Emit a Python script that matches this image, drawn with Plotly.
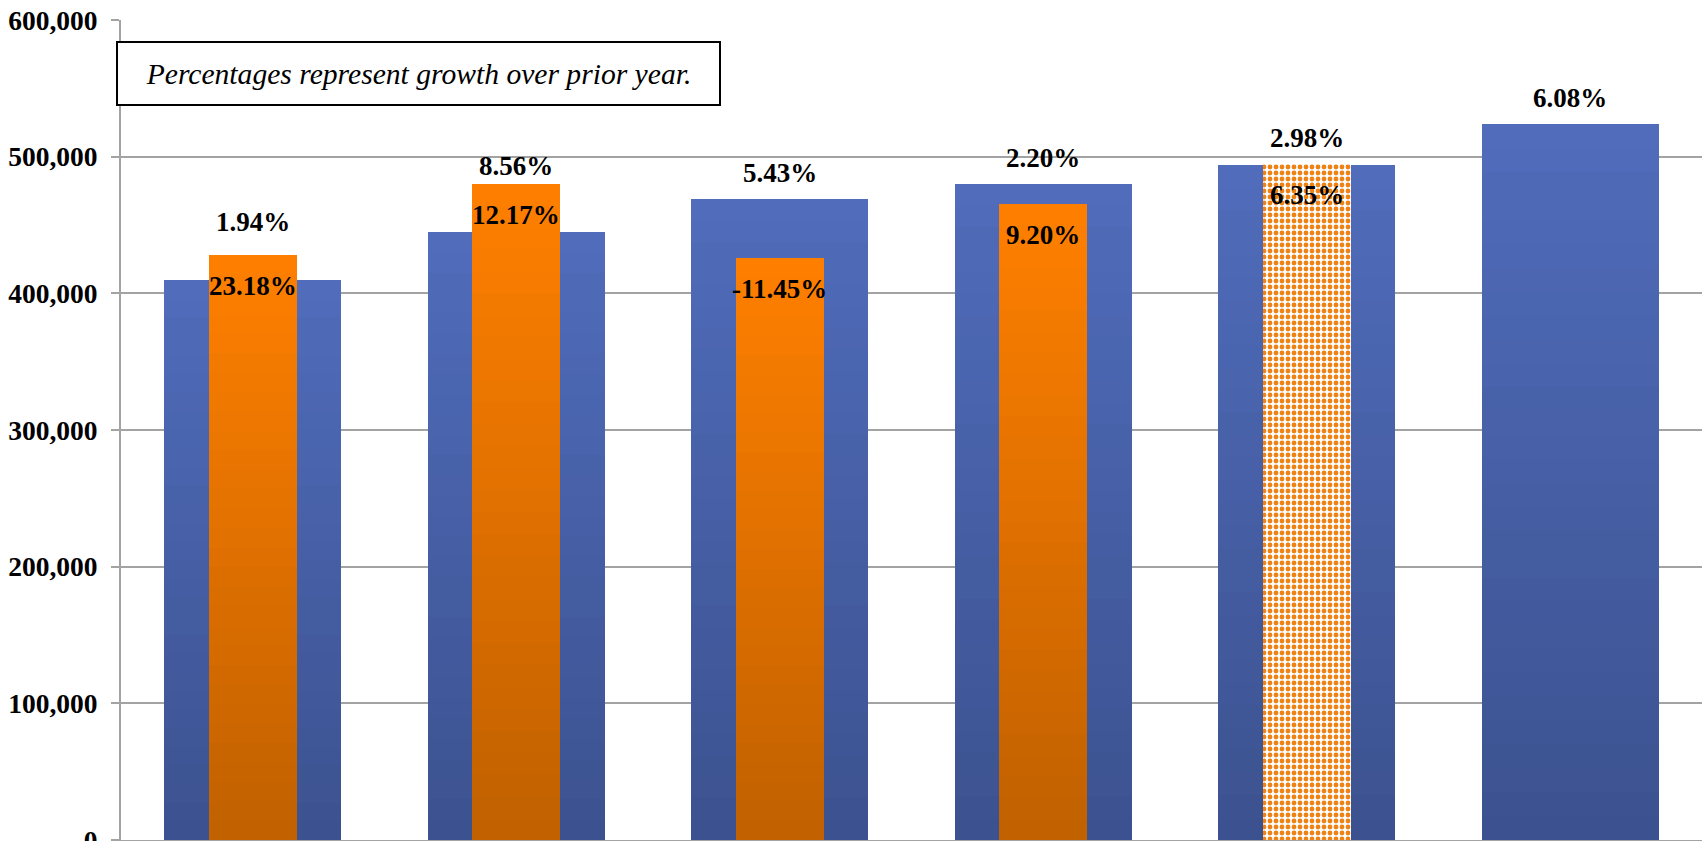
import plotly.graph_objects as go

# ---- data ----
categories = ["Y1", "Y2", "Y3", "Y4", "Y5", "Y6"]
blue_values = [409700, 444800, 469200, 480200, 494000, 523800]
blue_labels = ["1.94%", "8.56%", "5.43%", "2.20%", "2.98%", "6.08%"]
orange_values = [428000, 480300, 425500, 465200, 495000]
orange_labels = ["23.18%", "12.17%", "-11.45%", "9.20%", "6.35%"]
y_ticks = [0, 100000, 200000, 300000, 400000, 500000, 600000]
note_text = "Percentages represent growth over prior year."

# ---- styles ----
blue_top, blue_bottom = (80, 108, 187), (60, 82, 143)
orange_top, orange_bottom = (255, 128, 0), (192, 96, 0)
orange_checkered = [False, False, False, False, True]
blue_label_shift = [58, 66, 26, 26, 27, 26]   # px above bar top
orange_label_shift = -31                         # px below bar top
grid_color = "#A3A3A3"
serif = "Liberation Serif, Times New Roman, serif"
N_SHADES = 30


def mix(c_bottom, c_top, t):
    return "rgb(%d,%d,%d)" % tuple(round(b + (a - b) * t) for a, b in zip(c_top, c_bottom))


def gradient_bars(fig, xs, vals, width, c_top, c_bottom):
    # one bar per category, drawn as vertical shades (bottom dark -> top light)
    for k in range(N_SHADES):
        t = (k + 0.5) / N_SHADES
        fig.add_trace(go.Bar(
            x=xs, y=[v / N_SHADES * 1.02 if k < N_SHADES - 1 else v / N_SHADES for v in vals],
            base=[v * k / N_SHADES for v in vals], width=width,
            marker=dict(color=mix(c_bottom, c_top, t), line=dict(width=0)),
            hoverinfo="skip", showlegend=False,
        ))


fig = go.Figure()
gradient_bars(fig, categories, blue_values, 0.672, blue_top, blue_bottom)

solid_x = [c for c, h in zip(categories, orange_checkered) if not h]
solid_v = [v for v, h in zip(orange_values, orange_checkered) if not h]
gradient_bars(fig, solid_x, solid_v, 0.335, orange_top, orange_bottom)

check_x = [c for c, h in zip(categories, orange_checkered) if h]
check_v = [v for v, h in zip(orange_values, orange_checkered) if h]
fig.add_trace(go.Bar(
    x=check_x, y=check_v, width=0.335,
    marker=dict(color="#F0820F", line=dict(width=0),
                pattern=dict(shape=".", fgcolor="#EE8214", bgcolor="white",
                             size=6, solidity=0.5, fillmode="replace")),
    hoverinfo="skip", showlegend=False,
))

annotations = []
label_font = dict(family=serif, size=27, color="black", weight="bold")
for c, v, t, s in zip(categories, blue_values, blue_labels, blue_label_shift):
    annotations.append(dict(x=c, y=v, text=t, showarrow=False, yshift=s,
                            xref="x", yref="y", yanchor="middle", font=label_font))
for c, v, t in zip(categories, orange_values, orange_labels):
    annotations.append(dict(x=c, y=v, text=t, showarrow=False, yshift=orange_label_shift,
                            xref="x", yref="y", yanchor="middle", font=label_font))
annotations.append(dict(
    x=(418.5 - 121) / 1581, y=(840 - 73.5) / 820, xref="paper", yref="paper",
    xanchor="center", yanchor="middle", showarrow=False,
    text="<i>" + note_text + "</i>",
    font=dict(family=serif, size=29.6, color="black"),
    bordercolor="black", borderwidth=2, borderpad=0, bgcolor="white",
    width=601, height=61,
))

fig.update_layout(
    width=1702, height=841,
    margin=dict(l=121, r=0, t=20, b=1, pad=0, autoexpand=False),
    barmode="overlay", bargap=0,
    plot_bgcolor="white", paper_bgcolor="white",
    annotations=annotations,
    xaxis=dict(type="category", categoryorder="array", categoryarray=categories,
               range=[-0.5, 5.5], showticklabels=False, automargin=False,
               showgrid=False, showline=True, linecolor=grid_color, linewidth=2,
               ticks="", zeroline=False),
    yaxis=dict(range=[0, 600000], tickvals=y_ticks, tickformat=",", automargin=False,
               showgrid=True, gridcolor=grid_color, gridwidth=2,
               showline=True, linecolor=grid_color, linewidth=2,
               ticks="outside", ticklen=8, tickcolor=grid_color, tickwidth=2,
               ticklabelstandoff=8, ticklabeloverflow="allow", zeroline=False,
               tickfont=dict(family=serif, size=27.5, color="black", weight="bold")),
)

fig.write_html("out.html")
